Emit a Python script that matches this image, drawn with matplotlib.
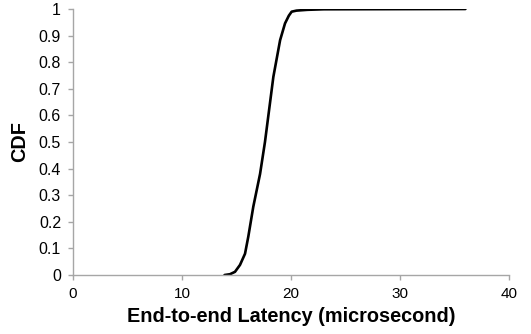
import matplotlib
matplotlib.use("Agg")
import matplotlib.pyplot as plt

# CDF of end-to-end latency
latency = [13.9, 14.4, 14.86, 15.32, 15.78, 16.08, 16.54, 17.16, 17.61,
           18.38, 19.0, 19.45, 19.8, 20.06, 20.5, 21.5, 23.0, 36.0]
cdf = [0.0, 0.003, 0.012, 0.038, 0.08, 0.144, 0.257, 0.38, 0.5,
       0.745, 0.883, 0.946, 0.975, 0.99, 0.994, 0.997, 0.999, 1.0]

x_ticks = [0, 10, 20, 30, 40]
y_ticks = [0, 0.1, 0.2, 0.3, 0.4, 0.5, 0.6, 0.7, 0.8, 0.9, 1]
y_labels = ["0", "0.1", "0.2", "0.3", "0.4", "0.5", "0.6", "0.7", "0.8", "0.9", "1"]

plt.rcParams['font.family'] = ['Liberation Sans', 'DejaVu Sans']

fig = plt.figure(figsize=(5.31, 3.34), dpi=100)
ax = fig.add_axes([0.1375, 0.1766, 0.8211, 0.7964])

ax.plot(latency, cdf, color='black', linewidth=1.9,
        solid_joinstyle='round', solid_capstyle='round')

ax.set_xlim(0, 40)
ax.set_ylim(0, 1)
ax.set_xticks(x_ticks)
ax.set_yticks(y_ticks)
ax.set_yticklabels(y_labels)

for side in ['top', 'right']:
    ax.spines[side].set_visible(False)
for side in ['left', 'bottom']:
    ax.spines[side].set_color('#a6a6a6')
    ax.spines[side].set_linewidth(1.0)

ax.tick_params(axis='both', colors='#a6a6a6', labelcolor='black',
               length=3.6, width=1.0, direction='out')
ax.tick_params(axis='y', pad=5, labelsize=11.5)
ax.tick_params(axis='x', pad=5, labelsize=11)

ax.set_xlabel('End-to-end Latency (microsecond)', fontsize=14.3, fontweight='bold', labelpad=4)
ax.set_ylabel('CDF', fontsize=14.3, fontweight='bold', labelpad=7)

fig.savefig('out.png', dpi=100)
